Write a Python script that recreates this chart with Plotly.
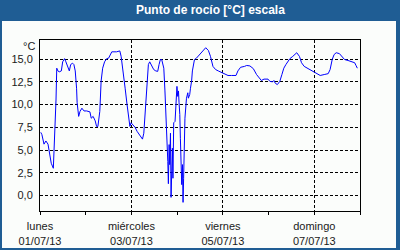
import pandas as pd
import plotly.graph_objects as go

# Hours since Monday 01/07/2013 00:00
hours = [0.4, 1.0, 2.1, 3.1, 4.2, 5.2, 5.9, 7.0, 7.3, 7.7, 8.4, 8.8, 9.4, 10.1, 11.2, 11.9,
         12.9, 13.6, 14.7, 15.4, 16.1, 17.1, 17.8, 18.5, 19.2, 19.5, 20.3, 21.0, 22.0, 23.1,
         24.5, 25.5, 26.2, 26.9, 27.9, 29.0, 29.7, 30.4, 31.1, 31.4, 32.1, 32.9, 33.9, 35.0,
         36.0, 37.7, 40.2, 41.9, 42.6, 43.6, 44.7, 45.7, 46.5, 47.2, 47.8, 48.9, 49.9, 51.0,
         52.0, 53.1, 53.8, 54.5, 55.2, 55.9, 56.9, 57.6, 58.7, 59.7, 60.8, 61.8, 62.5, 63.2,
         63.9, 65.0, 65.6, 66.4, 66.7, 67.1, 67.4, 67.8, 68.1, 68.5, 68.8, 69.2, 69.5, 69.8,
         70.2, 70.9, 71.6, 71.9, 72.3, 72.7, 73.0, 73.4, 73.7, 74.0, 74.4, 74.8, 75.1, 75.4,
         75.8, 76.1, 76.9, 77.6, 77.9, 78.6, 79.0, 79.6, 80.0, 81.1, 82.1, 83.8, 85.6, 87.0,
         88.4, 89.5, 90.8, 92.2, 93.6, 95.4, 97.1, 98.7, 100.5, 102.9, 103.9, 105.3, 107.4,
         108.5, 110.2, 112.0, 113.7, 115.2, 116.2, 117.6, 119.7, 120.7, 122.1, 122.8, 123.5,
         124.6, 125.9, 127.0, 128.0, 129.1, 130.1, 131.2, 132.7, 134.8, 136.2, 137.3, 138.7,
         140.8, 142.5, 143.9, 145.3, 147.1, 149.2, 151.3, 152.3, 153.4, 154.4, 155.5, 157.2,
         158.6, 159.9, 161.7, 163.4, 165.2, 165.9, 166.6]

dew_point = [6.95, 6.7, 5.65, 6.0, 5.65, 4.1, 3.55, 3.0, 4.5, 7.6, 10.5, 14.0, 13.7, 13.6, 13.7, 14.7,
             15.05, 14.7, 14.0, 13.7, 14.4, 14.55, 14.4, 13.7, 11.8, 10.2, 8.7, 9.25, 9.6, 9.3,
             9.3, 9.2, 9.2, 8.5, 8.7, 8.2, 7.6, 7.6, 8.9, 9.25, 12.6, 14.0, 14.7, 15.05,
             15.1, 15.8, 15.8, 15.9, 15.3, 13.85, 11.8, 10.0, 8.9, 7.6, 8.0, 7.7, 7.5, 7.05,
             6.7, 6.3, 6.2, 6.85, 9.25, 11.8, 14.4, 14.7, 14.3, 13.85, 13.7, 13.65, 14.4, 14.95,
             14.95, 14.0, 11.5, 8.15, 5.6, 3.75, 1.3, 5.6, 3.4, 6.85, -0.2, 2.65, 5.2, 1.9,
             8.0, 8.15, 11.1, 12.0, 10.9, 11.5, 10.2, 8.9, 6.3, 3.4, 1.2, 3.4, -0.75, 1.9,
             5.2, 8.5, 10.7, 11.3, 10.7, 11.1, 11.8, 12.6, 13.7, 14.95, 15.1, 15.5, 15.9, 16.25,
             15.95, 15.3, 14.2, 13.85, 13.7, 13.55, 13.4, 13.2, 13.2, 13.2, 13.7, 14.1, 14.2,
             14.3, 14.25, 13.95, 13.3, 12.85, 12.65, 12.8, 12.8, 12.55, 12.5, 12.65, 12.35,
             12.2, 12.55, 13.3, 14.0, 14.4, 14.7, 15.05, 15.3, 15.7, 15.3, 14.6, 14.2,
             13.95, 13.75, 13.5, 13.4, 13.2, 13.3, 13.4, 13.85, 14.95, 15.5, 15.7, 15.6,
             15.2, 14.95, 14.85, 14.75, 14.6, 14.3, 14.0]

tick_dates = ["2013-07-01", "2013-07-03", "2013-07-05", "2013-07-07"]
tick_days = ["lunes", "miércoles", "viernes", "domingo"]
tick_labels = ["01/07/13", "03/07/13", "05/07/13", "07/07/13"]
y_ticks = [0, 2.5, 5, 7.5, 10, 12.5, 15]

title_text = "Punto de rocío [°C] escala"
unit_text = "°C"

BLUE = "#1f5d94"
FONT = "Liberation Sans"

times = pd.Timestamp("2013-07-01") + pd.to_timedelta(hours, unit="h")

fig = go.Figure()
fig.add_trace(go.Scatter(x=times, y=dew_point, mode="lines",
                         line=dict(color="#0000ff", width=1), hoverinfo="skip"))

L, R, T, B = 40, 40, 40, 39
W, H = 400, 250
pw, ph = W - L - R, H - T - B

def px(x):
    return (x - L) / pw

def py(y):
    return (H - B - y) / ph

fig.update_layout(
    width=W, height=H,
    margin=dict(l=L, r=R, t=T, b=B, pad=0, autoexpand=False),
    paper_bgcolor=BLUE,
    plot_bgcolor="#fbfdfb",
    showlegend=False,
    separators=",.",
    font=dict(family=FONT, size=11, color="#1a1a1a"),
    shapes=[dict(type="rect", xref="paper", yref="paper", layer="below",
                 x0=px(2), x1=px(396), y0=py(248), y1=py(21),
                 fillcolor="#fbfdfb", line=dict(width=0))],
    annotations=[
        dict(text="<b>" + title_text + "</b>", xref="paper", yref="paper",
             x=px(210), y=py(10.5), xanchor="center", yanchor="middle", showarrow=False,
             font=dict(family=FONT, size=12, color="white")),
        dict(text=unit_text, xref="paper", yref="paper",
             x=px(37), y=py(46), xanchor="right", yanchor="middle", showarrow=False,
             font=dict(family=FONT, size=11, color="#1a1a1a")),
    ],
)

fig.update_xaxes(
    type="date",
    range=["2013-07-01", "2013-07-08"],
    tickvals=tick_dates,
    ticktext=[d + "<br>" + t for d, t in zip(tick_days, tick_labels)],
    ticks="outside", ticklen=3, tickcolor="black", ticklabelstandoff=2,
    showgrid=True, gridcolor="black", gridwidth=1, griddash="3px,2px",
    minor=dict(dtick=86400000, ticks="outside", ticklen=3, tickcolor="black", showgrid=False),
    showline=True, linecolor="black", linewidth=1, mirror=True,
    zeroline=False, fixedrange=True, automargin=False,
)
fig.update_yaxes(
    range=[-1.7, 17.1],
    tickvals=y_ticks, tickformat=".1f",
    ticks="", ticklabelstandoff=4,
    showgrid=True, gridcolor="black", gridwidth=1, griddash="3px,2px",
    showline=True, linecolor="black", linewidth=1, mirror=True,
    zeroline=False, fixedrange=True, automargin=False,
)

fig.write_html("out.html", config={"displayModeBar": False})
